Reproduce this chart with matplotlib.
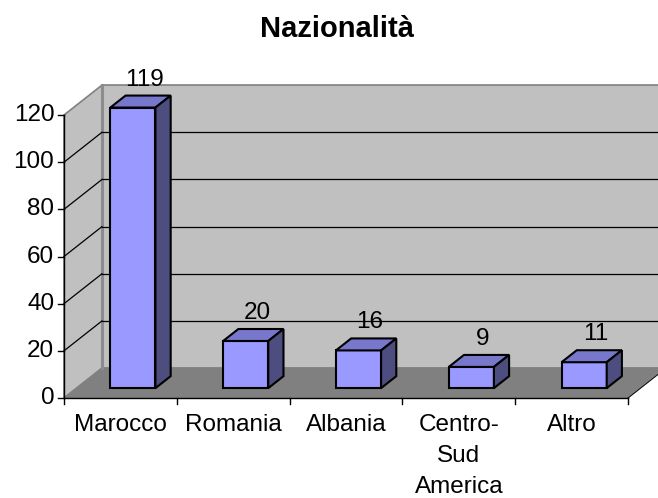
import matplotlib
matplotlib.use("Agg")
import matplotlib.pyplot as plt
from matplotlib.patches import Polygon

plt.rcParams["font.family"] = ["Liberation Sans", "DejaVu Sans"]

# data
categories = ["Marocco", "Romania", "Albania", "Centro-\nSud\nAmerica", "Altro"]
values = [119, 20, 16, 9, 11]
yticks = [0, 20, 40, 60, 80, 100, 120]
title = "Nazionalità"

# oblique "3D" look: shift per unit of depth, in data units
DX, DY = 0.337, 12.7
D0, D1 = 0.33, 0.73  # bar front / back depth
BAR_W = 0.4
YMAX = 120
n = len(categories)
FS = 17.5


def proj(x, y, d):
    return (x + d * DX, y + d * DY)


def face(ax, pts, fc, ec="black", lw=1.5, z=1):
    ax.add_patch(Polygon([proj(*p) for p in pts], closed=True, facecolor=fc,
                         edgecolor=ec, linewidth=lw, joinstyle="miter", zorder=z))


fig = plt.figure(figsize=(6.58, 4.98), dpi=100)
ax = fig.add_axes([0, 0, 1, 1])
ax.set_xlim(-0.567, 5.266)
ax.set_ylim(-42.4, 168.8)
ax.axis("off")

# walls and floor
face(ax, [(0, 0, 1), (n, 0, 1), (n, YMAX, 1), (0, YMAX, 1)], "#c0c0c0", "#808080", 1.2, 0)
face(ax, [(0, 0, 0), (0, 0, 1), (0, YMAX, 1), (0, YMAX, 0)], "#c0c0c0", "#808080", 1.2, 0)
face(ax, [(0, 0, 0), (n, 0, 0), (n, 0, 1), (0, 0, 1)], "#808080", "#808080", 0.8, 0)
# thicker back-left corner edge
ax.plot(*zip(proj(0, 0, 1), proj(0, YMAX, 1)), color="#8c8c8c", lw=2.2, zorder=0.5)

# gridlines on back and side walls
for v in yticks[1:-1]:
    ax.plot(*zip(proj(0, v, 1), proj(n, v, 1)), color="black", lw=0.9, zorder=0.6)
    ax.plot(*zip(proj(0, v, 0), proj(0, v, 1)), color="black", lw=0.9, zorder=0.6)

# axes lines and ticks
ax.plot([0, 0], [0, YMAX], color="black", lw=1.0, zorder=2)
ax.plot([0, n], [0, 0], color="black", lw=1.0, zorder=2)
ax.plot(*zip(proj(n, 0, 0), proj(n, 0, 1)), color="black", lw=0.6, zorder=0.7)
for v in yticks:
    ax.plot([-0.055, 0], [v, v], color="black", lw=1.0)
    ax.text(-0.085, v, str(v), ha="right", va="center", fontsize=FS)
for i in range(n + 1):
    ax.plot([i, i], [0, -2.6], color="black", lw=1.0)
for i, c in enumerate(categories):
    ax.text(i + 0.5, -6.9, c, ha="center", va="top", fontsize=FS, linespacing=1.52)

# bars
for i, v in enumerate(values):
    x0 = i + 0.5 - BAR_W / 2
    x1 = x0 + BAR_W
    face(ax, [(x0, 0, D0), (x1, 0, D0), (x1, v, D0), (x0, v, D0)], "#9999ff", z=3)
    face(ax, [(x0, v, D0), (x1, v, D0), (x1, v, D1), (x0, v, D1)], "#7777cc", z=3)
    face(ax, [(x1, 0, D0), (x1, 0, D1), (x1, v, D1), (x1, v, D0)], "#4d4d80", z=3)
    lx, ly = proj((x0 + x1) / 2, v, (D0 + D1) / 2 + 0.1)
    ax.text(lx, ly + 5.5, str(v), ha="center", va="baseline", fontsize=FS, zorder=4)

ax.text(2.42, 156.3, title, ha="center", va="center", fontsize=21, fontweight="bold")

fig.savefig("out.png", dpi=100)
